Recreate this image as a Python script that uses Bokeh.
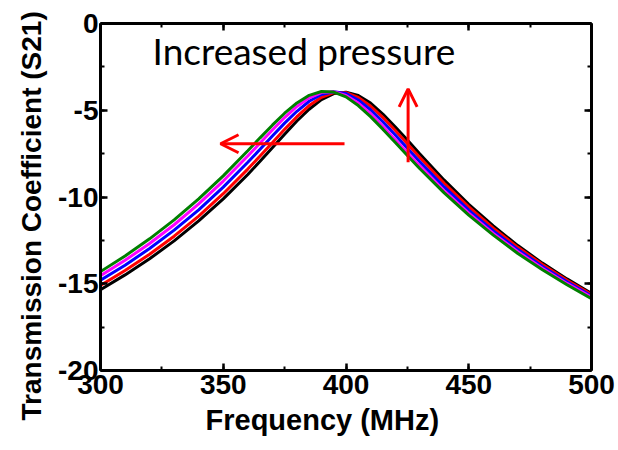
from bokeh.plotting import figure
from bokeh.models import (Range1d, LinearAxis, SingleIntervalTicker, Label, Arrow, OpenHead,
                          Title, CustomJSTickFormatter)
from bokeh.embed import file_html
from bokeh.resources import INLINE

# ---- data ----
freq = [300, 310, 320, 330, 340, 350, 360, 365, 370, 375, 380, 385, 390, 395,
        400, 405, 410, 415, 420, 425, 430, 440, 450, 460, 470, 480, 490, 500]
s21_black = [-15.34, -14.49, -13.56, -12.53, -11.38, -10.11, -8.70, -7.94, -7.16, -6.38,
             -5.62, -4.94, -4.39, -4.04, -3.96, -4.15, -4.59, -5.22, -5.95, -6.72,
             -7.51, -9.03, -10.42, -11.67, -12.80, -13.81, -14.72, -15.56]
s21_red = [-15.10, -14.24, -13.30, -12.26, -11.10, -9.81, -8.39, -7.64, -6.87, -6.10,
           -5.37, -4.73, -4.25, -3.98, -3.99, -4.26, -4.76, -5.41, -6.15, -6.93,
           -7.71, -9.21, -10.57, -11.80, -12.90, -13.89, -14.80, -15.62]
s21_blue = [-14.80, -13.93, -12.97, -11.91, -10.74, -9.43, -8.00, -7.25, -6.48, -5.74,
            -5.06, -4.48, -4.09, -3.93, -4.04, -4.41, -4.97, -5.66, -6.41, -7.19,
            -7.96, -9.42, -10.76, -11.95, -13.03, -14.00, -14.89, -15.70]
s21_magenta = [-14.54, -13.65, -12.68, -11.60, -10.40, -9.08, -7.64, -6.89, -6.14, -5.42,
               -4.78, -4.28, -3.98, -3.93, -4.15, -4.59, -5.20, -5.92, -6.68, -7.45,
               -8.20, -9.64, -10.93, -12.10, -13.15, -14.11, -14.98, -15.77]
s21_green = [-14.30, -13.40, -12.41, -11.32, -10.11, -8.78, -7.33, -6.59, -5.86, -5.17,
             -4.58, -4.14, -3.92, -3.95, -4.23, -4.73, -5.37, -6.09, -6.85, -7.61,
             -8.36, -9.76, -11.04, -12.20, -13.26, -14.19, -15.06, -15.86]

series = [(s21_black, "black"), (s21_red, "#FF0000"), (s21_blue, "#0000FF"),
          (s21_magenta, "#FF00FF"), (s21_green, "#008000")]

x_title = "Frequency (MHz)"
y_title = "Transmission Coefficient (S21)"
note_text = "Increased pressure"

# annotation anchors (data units)
note_pos = (321.2, -1.55)
shift_arrow = (399.4, -6.93, 348.9, -6.93)
rise_arrow = (425.3, -7.99, 425.3, -3.77)

FONT = "Liberation Sans"

p = figure(width=616, height=450, output_backend="svg", toolbar_location=None,
           x_range=Range1d(300, 500), y_range=Range1d(-20, 0),
           x_axis_location=None, y_axis_location=None,
           min_border_left=100, min_border_right=25, min_border_top=23, min_border_bottom=80)
p.xgrid.visible = False
p.ygrid.visible = False
p.outline_line_color = None
p.background_fill_color = "white"
p.border_fill_color = "white"

plain_fmt = "return tick.toString();"
blank_fmt = "return '';"


def style_axis(ax, show_labels, standoff=2):
    ax.axis_line_width = 3
    ax.axis_line_color = "black"
    ax.major_tick_in = 7
    ax.major_tick_out = 0
    ax.minor_tick_in = 4
    ax.minor_tick_out = 0
    ax.major_tick_line_width = 2.5
    ax.minor_tick_line_width = 2
    ax.major_tick_line_color = "black"
    ax.minor_tick_line_color = "black"
    if show_labels:
        ax.formatter = CustomJSTickFormatter(code=plain_fmt)
        ax.major_label_text_font = FONT
        ax.major_label_text_font_style = "bold"
        ax.major_label_text_font_size = "28px"
        ax.major_label_text_color = "black"
        ax.major_label_standoff = standoff
    else:
        ax.formatter = CustomJSTickFormatter(code=blank_fmt)
        ax.major_label_standoff = 0


xb = LinearAxis(ticker=SingleIntervalTicker(interval=50, num_minor_ticks=2))
yl = LinearAxis(ticker=SingleIntervalTicker(interval=5, num_minor_ticks=2))
xt = LinearAxis(ticker=SingleIntervalTicker(interval=50, num_minor_ticks=2))
yr = LinearAxis(ticker=SingleIntervalTicker(interval=5, num_minor_ticks=2))
style_axis(xb, True, standoff=4)
style_axis(yl, True, standoff=2)
style_axis(xt, False)
style_axis(yr, False)
p.add_layout(xb, "below")
p.add_layout(yl, "left")
p.add_layout(xt, "above")
p.add_layout(yr, "right")

for ys, col in series:
    p.line(freq, ys, line_color=col, line_width=3)

# axis titles
p.add_layout(Title(text=x_title, text_font=FONT, text_font_style="bold",
                   text_font_size="29px", align="left", offset=105, standoff=10,
                   text_color="black"), "below")
p.add_layout(Title(text=y_title, text_font=FONT, text_font_style="bold",
                   text_font_size="28px", align="left", offset=-50, standoff=18,
                   text_color="black"), "left")

p.add_layout(Label(x=note_pos[0], y=note_pos[1], text=note_text, text_font="Lato",
                   text_font_size="37px", text_align="left", text_baseline="alphabetic",
                   text_color="black"))

for (x0, y0, x1, y1) in (shift_arrow, rise_arrow):
    p.add_layout(Arrow(end=OpenHead(size=18, line_color="#FF0000", line_width=3),
                       x_start=x0, y_start=y0, x_end=x1, y_end=y1,
                       line_color="#FF0000", line_width=3))

open("out.html", "w").write(file_html(p, INLINE))
